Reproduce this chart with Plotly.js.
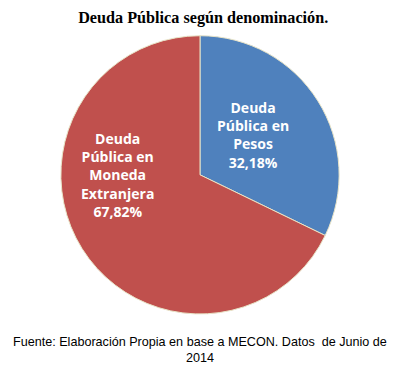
<!DOCTYPE html>
<html><head><meta charset="utf-8">
<script src="https://cdn.plot.ly/plotly-3.0.1.min.js"></script>
<style>html,body{margin:0;padding:0;background:#fff}#chart{width:400px;height:376px}</style>
</head><body><div id="chart"></div>
<script>
const labels = ["Deuda<br>Pública en<br>Pesos", "Deuda<br>Pública en<br>Moneda<br>Extranjera"];
const values = [32.18, 67.82];
const colors = ["#4F81BD", "#C0504D"];
const fmt = v => v.toFixed(2).replace('.', ',') + '%';

const trace = {
  type: 'pie', labels: labels, values: values, sort: false,
  direction: 'clockwise', rotation: 0,
  marker: {colors: colors, line: {color: '#e8e4c8', width: 1}},
  textinfo: 'none', hoverinfo: 'none', showlegend: false,
  domain: {x: [0.13, 0.87], y: [0.165, 0.905]}
};
const labelPos = [[0.633, 0.64], [0.293, 0.535]];
const annotations = labels.map((l, i) => ({
  xref: 'paper', yref: 'paper', x: labelPos[i][0], y: labelPos[i][1],
  xanchor: 'center', yanchor: 'middle',
  text: '<b>' + l + '<br>' + fmt(values[i]) + '</b>', showarrow: false,
  font: {family: 'Open Sans, Liberation Sans, sans-serif', size: 14, color: '#ffffff'},
  align: 'center'
}));
annotations.push({
  xref: 'paper', yref: 'paper', x: 0.5, y: 0.068, xanchor: 'center', yanchor: 'middle',
  text: 'Fuente: Elaboración Propia en base a MECON. Datos  de Junio de<br>2014',
  showarrow: false, align: 'center',
  font: {family: 'Liberation Sans, sans-serif', size: 12.6, color: '#000'}
});
const layout = {
  width: 400, height: 376, margin: {l: 0, r: 0, t: 0, b: 0},
  paper_bgcolor: '#fff',
  title: {text: '<b>Deuda Pública según denominación.</b>', x: 0.508, xanchor: 'center', y: 0.955, yanchor: 'middle',
    font: {family: 'Liberation Serif, Times New Roman, serif', size: 16.2, color: '#000'}},
  annotations: annotations
};
Plotly.newPlot('chart', [trace], layout, {staticPlot: true});
</script></body></html>
